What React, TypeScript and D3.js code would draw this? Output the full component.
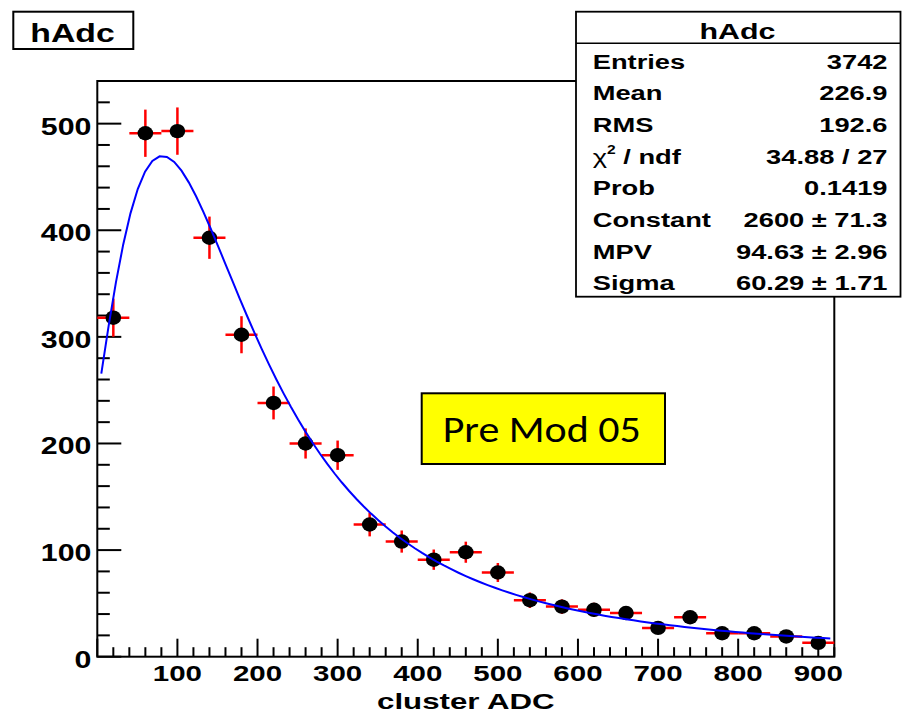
import React from "react";
import * as d3 from "d3";

// Histogram hAdc: bin centres (40-wide bins over 0..920) and entries per bin
const binCenters = [20, 60, 100, 140, 180, 220, 260, 300, 340, 380, 420, 460, 500, 540, 580, 620, 660, 700, 740, 780, 820, 860, 900];
const counts = [318, 491, 493, 393, 302, 238, 200, 189, 124, 108, 91, 98, 79, 53, 47, 44, 41, 27, 37, 22, 22, 19, 13];
const binHalfWidth = 20;

const xTickValues = [100, 200, 300, 400, 500, 600, 700, 800, 900];
const yTickValues = [0, 100, 200, 300, 400, 500];

// Landau fit parameters
const fitConstant = 2600;
const fitMPV = 94.63;
const fitSigma = 60.29;
const fitRange = [5, 915];

const statLabels = ["Entries", "Mean", "RMS", "chi2", "Prob", "Constant", "MPV", "Sigma"];
const statValues = ["3742", "226.9", "192.6", "34.88 / 27", "0.1419", "2600 \u00b1 71.3", "94.63 \u00b1 2.96", "60.29 \u00b1 1.71"];

const W = 902;
const H = 714;
const plot = { left: 97.3, right: 834.3, top: 81, bottom: 656.7 };
const FONT = "'Liberation Sans', Arial, Helvetica, sans-serif";

// Standard Landau density: (1/pi) * int_0^inf exp(-t ln t - l t) sin(pi t) dt
function landauDensity(l: number): number {
  const n = 6000;
  const T = 30;
  const h = T / n;
  let s = 0;
  for (let i = 0; i <= n; i++) {
    const t = i * h;
    const f = t === 0 ? 0 : Math.exp(-t * Math.log(t) - l * t) * Math.sin(Math.PI * t);
    const w = i === 0 || i === n ? 1 : i % 2 ? 4 : 2;
    s += w * f;
  }
  return (s * h) / 3 / Math.PI;
}

type STextProps = {
  x: number;
  y: number;
  size: number;
  anchor?: "start" | "middle" | "end";
  sx?: number;
  weight?: string;
  family?: string;
  children: React.ReactNode;
};

const SText = ({ x, y, size, anchor = "start", sx = 1.3, weight = "bold", family = FONT, children }: STextProps) => (
  <text
    transform={`translate(${x},${y}) scale(${sx},1)`}
    textAnchor={anchor}
    fontSize={size}
    fontWeight={weight}
    fontFamily={family}
    fill="#000"
  >
    {children}
  </text>
);

export default function App() {
  const x = d3.scaleLinear().domain([0, 920]).range([plot.left, plot.right]);
  const y = d3.scaleLinear().domain([0, 540]).range([plot.bottom, plot.top]);

  const xMinor = d3.range(0, 921, 20);
  const yMinor = d3.range(0, 541, 20);

  const curvePts: [number, number][] = d3.range(0, 101).map((i) => {
    const xv = fitRange[0] + (i * (fitRange[1] - fitRange[0])) / 100;
    return [xv, fitConstant * landauDensity((xv - fitMPV) / fitSigma)];
  });
  const line = d3
    .line<[number, number]>()
    .x((d) => x(d[0]))
    .y((d) => y(d[1]));

  const rowY0 = 68.5;
  const rowStep = 31.7;

  return (
    <div style={{ position: "absolute", left: 0, top: 0 }}>
      <svg width={W} height={H} viewBox={`0 0 ${W} ${H}`} style={{ display: "block", background: "#fff" }}>
        {/* frame */}
        <rect x={plot.left} y={plot.top} width={plot.right - plot.left} height={plot.bottom - plot.top} fill="none" stroke="#000" strokeWidth={2} />

        {/* y axis ticks */}
        {yMinor.map((v) => (
          <line key={"ym" + v} x1={plot.left} x2={plot.left + (v % 100 === 0 ? 24 : 12.5)} y1={y(v)} y2={y(v)} stroke="#000" strokeWidth={2} />
        ))}
        {yTickValues.map((v) => (
          <SText key={"yl" + v} x={91.5} y={y(v) + 11} size={23} anchor="end" sx={1.32}>
            {v}
          </SText>
        ))}

        {/* x axis ticks */}
        {xMinor.map((v) => (
          <line key={"xm" + v} x1={x(v)} x2={x(v)} y1={plot.bottom} y2={plot.bottom - (v % 100 === 0 ? 18 : 9.5)} stroke="#000" strokeWidth={2} />
        ))}
        {xTickValues.map((v) => (
          <SText key={"xl" + v} x={x(v)} y={680.5} size={22} anchor="middle" sx={1.34}>
            {v}
          </SText>
        ))}
        <SText x={(plot.left + plot.right) / 2} y={709} size={22} anchor="middle" sx={1.42}>
          cluster ADC
        </SText>

        {/* error bars */}
        {binCenters.map((c, i) => {
          const n = counts[i];
          const e = Math.sqrt(n);
          return (
            <g key={"eb" + i} stroke="#ff0000" strokeWidth={2.5}>
              <line x1={x(c - binHalfWidth)} x2={x(c + binHalfWidth)} y1={y(n)} y2={y(n)} />
              <line x1={x(c)} x2={x(c)} y1={y(n - e)} y2={y(n + e)} />
            </g>
          );
        })}

        {/* markers */}
        {binCenters.map((c, i) => (
          <ellipse key={"mk" + i} cx={x(c)} cy={y(counts[i])} rx={7.8} ry={7.2} fill="#000" />
        ))}

        {/* Landau fit */}
        <path d={line(curvePts) ?? ""} fill="none" stroke="#0000ff" strokeWidth={2} />

        {/* label box */}
        <rect x={421.7} y={393.3} width={243.3} height={70.7} fill="#ffff00" stroke="#000" strokeWidth={2} />
        <text
          x={442.7}
          y={441.7}
          fontSize={37}
          fontFamily="Carlito, Lato, 'Open Sans', sans-serif"
          textLength={198}
          lengthAdjust="spacingAndGlyphs"
          fill="#000"
        >
          Pre Mod 05
        </text>

        {/* title box */}
        <rect x={13.3} y={11.7} width={120} height={37.3} fill="#fff" stroke="#000" strokeWidth={2} />
        <SText x={72.5} y={41.5} size={26} anchor="middle" sx={1.3}>
          hAdc
        </SText>

        {/* statistics box */}
        <rect x={576} y={11.7} width={324.5} height={285} fill="#fff" stroke="#000" strokeWidth={1.8} />
        <line x1={576} x2={900.5} y1={43.3} y2={43.3} stroke="#000" strokeWidth={1.5} />
        <SText x={737.5} y={38.5} size={22} anchor="middle" sx={1.38}>
          hAdc
        </SText>
        {statLabels.map((lab, i) => {
          const yy = rowY0 + i * rowStep;
          return (
            <g key={"st" + i}>
              {lab === "chi2" ? (
                <text transform={`translate(592.7,${yy}) scale(1.3,1)`} fontSize={21} fontFamily={FONT} fill="#000">
                  <tspan fontWeight="normal">{"\u03c7"}</tspan>
                  <tspan fontWeight="bold" fontSize={12} dy={-10}>2</tspan>
                  <tspan fontWeight="bold" dy={10}>{" / ndf"}</tspan>
                </text>
              ) : (
                <SText x={592.7} y={yy} size={21}>
                  {lab}
                </SText>
              )}
              <SText x={887.5} y={yy} size={21} anchor="end">
                {statValues[i]}
              </SText>
            </g>
          );
        })}
      </svg>
    </div>
  );
}
